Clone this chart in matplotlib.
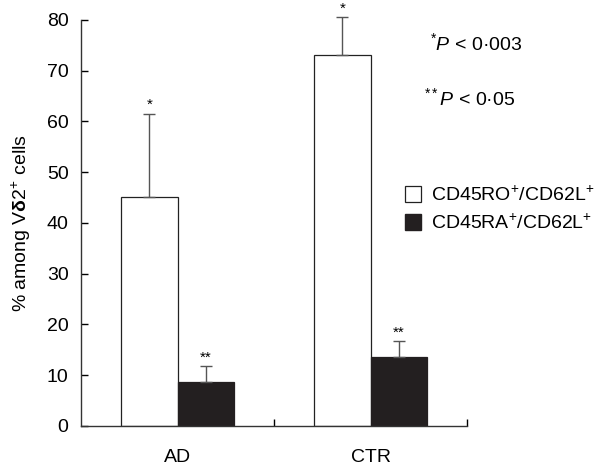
import matplotlib
matplotlib.use("Agg")
import matplotlib.pyplot as plt
import matplotlib.patches as mpatches
import numpy as np

plt.rcParams['font.family'] = ['Liberation Sans', 'DejaVu Sans']
plt.rcParams['mathtext.fontset'] = 'custom'
plt.rcParams['mathtext.rm'] = 'Liberation Sans'
plt.rcParams['mathtext.it'] = 'Liberation Sans:italic'
plt.rcParams['mathtext.bf'] = 'Liberation Sans:bold'

# data
groups = ['AD', 'CTR']
series = ['CD45RO$^{+}$/CD62L$^{+}$', 'CD45RA$^{+}$/CD62L$^{+}$']
ro_means = [45.1, 73.1]
ro_err = [16.4, 7.4]
ra_means = [8.7, 13.5]
ra_err = [3.0, 3.2]
ro_marks = ['*', '*']
ra_marks = ['**', '**']
p_notes = ['$^{*}P$ < 0·003', '$^{**}P$ < 0·05']

fig = plt.figure(figsize=(6.06, 4.72), dpi=100)
ax = fig.add_axes([0.1337, 0.098, 0.637, 0.8597])

centers = np.arange(len(groups)) + 0.5
w = 0.292
x_ro = centers - w / 2
x_ra = centers + w / 2

ax.bar(x_ro, ro_means, width=w, color='white', edgecolor='#222222', linewidth=0.9, zorder=2)
ax.bar(x_ra, ra_means, width=w, color='#231f20', edgecolor='#231f20', linewidth=0.9, zorder=2)
for xs, ms, es in [(x_ro, ro_means, ro_err), (x_ra, ra_means, ra_err)]:
    eb = ax.errorbar(xs, ms, yerr=[np.zeros(2), es], fmt='none', ecolor='#555555',
                     elinewidth=1.0, capsize=4.5, capthick=1.0, zorder=3)
    for art in eb.lines[1] + eb.lines[2]:
        art.set_clip_on(False)

for x, m, e, s in zip(x_ro, ro_means, ro_err, ro_marks):
    ax.text(x, m + e + 0.3, s, ha='center', va='bottom', fontsize=11)
for x, m, e, s in zip(x_ra, ra_means, ra_err, ra_marks):
    ax.text(x, m + e + 0.3, s, ha='center', va='bottom', fontsize=11)

ax.set_xlim(0, 2)
ax.set_ylim(0, 80)
ax.set_yticks(np.arange(0, 81, 10))
ax.set_xticks([1, 2])
ax.set_xticklabels([])
for gx, g in zip(centers, groups):
    ax.text(gx, -6.3, g, ha='center', va='center', fontsize=14)

ax.tick_params(axis='y', direction='in', length=5, width=1.0, labelsize=14, pad=9)
ax.tick_params(axis='x', direction='in', length=5, width=1.0)
for side in ['top', 'right']:
    ax.spines[side].set_visible(False)
for side in ['left', 'bottom']:
    ax.spines[side].set_linewidth(1.0)
    ax.spines[side].set_color('#333333')

ax.set_ylabel('% among V$\\mathbf{\\delta}$2$^{+}$ cells', fontsize=14, labelpad=10)

fig.text(0.710, 0.908, p_notes[0], fontsize=14, ha='left', va='center')
fig.text(0.700, 0.792, p_notes[1], fontsize=14, ha='left', va='center')

handles = [mpatches.Patch(facecolor='white', edgecolor='#222222', linewidth=0.9, label=series[0]),
           mpatches.Patch(facecolor='#231f20', edgecolor='#231f20', label=series[1])]
fig.legend(handles=handles, loc='upper left', bbox_to_anchor=(0.652, 0.628), frameon=False,
           fontsize=14, handlelength=0.85, handleheight=0.85, handletextpad=0.5,
           labelspacing=0.45, borderpad=0.0)

fig.savefig('out.png', dpi=100, facecolor='white')
